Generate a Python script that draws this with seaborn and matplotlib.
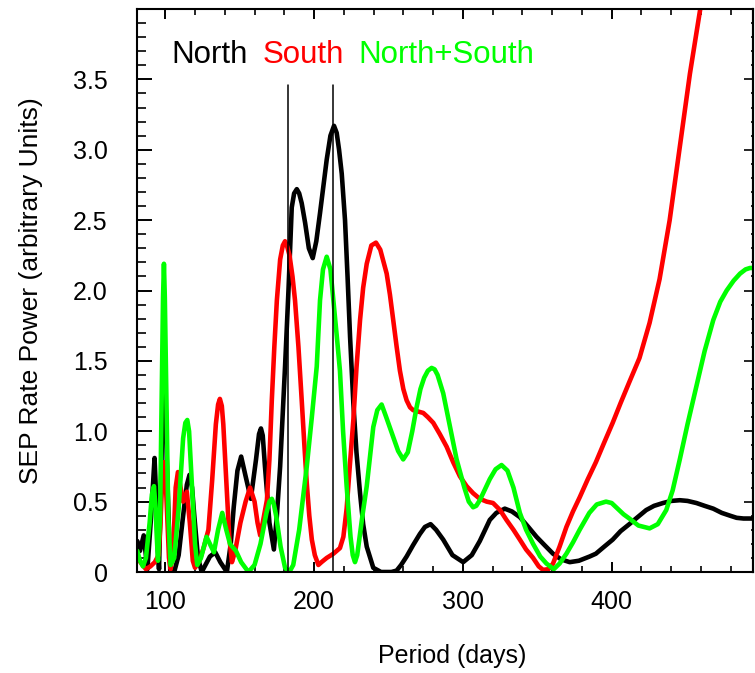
import numpy as np
import pandas as pd
import matplotlib
matplotlib.use("Agg")
import matplotlib.pyplot as plt
from matplotlib.ticker import MultipleLocator, FixedLocator
import seaborn as sns

# Power spectra of SEP event rate versus period (days)
north_period = [81.2, 83, 85.5, 88, 90.5, 92.8, 94, 95, 95.8, 97.5, 98.5, 99.1, 99.7, 101,
                103.4, 106, 109, 112, 114.5, 116.3, 118, 119.5, 122, 124.5, 127, 130, 133.6,
                137, 141.4, 144, 146, 148.5, 151, 154, 157.5, 161, 163, 164.3, 165.5, 167,
                170, 173, 175, 177.2, 180.5, 182.8, 185, 186.6, 188.4, 190, 191.7, 194,
                196.5, 199.1, 201.5, 204, 208.5, 211, 213.4, 215.2, 216.8, 218.6, 220.8,
                222.5, 224.2, 226.4, 228.5, 230.9, 233, 235.4, 239.8, 245, 252, 255.5, 258.5,
                262.2, 266.5, 271.1, 274.5, 278.3, 282, 286.8, 293, 300.2, 306, 311.4, 318.1,
                322.5, 328.2, 333, 338.3, 344, 349.5, 355, 360.6, 366, 371.8, 378, 385.2,
                389.4, 395, 400.7, 406, 411.9, 417.5, 423.2, 428.5, 434.5, 440, 445.8, 451,
                457, 462.5, 468.3, 474, 479.6, 484, 488.6, 496.5]
north_power = [0.22, 0.15, 0.26, 0.02, 0.40, 0.81, 0.50, 0.15, 0.02, 0.80, 1.45, 1.72, 1.45,
               0.80, 0.00, 0.00, 0.12, 0.40, 0.62, 0.69, 0.60, 0.40, 0.10, 0.00, 0.05, 0.11,
               0.14, 0.07, 0.00, 0.20, 0.46, 0.72, 0.82, 0.68, 0.52, 0.80, 0.98, 1.02, 0.97,
               0.75, 0.35, 0.16, 0.40, 0.75, 1.46, 2.00, 2.59, 2.69, 2.72, 2.69, 2.62, 2.48,
               2.30, 2.23, 2.35, 2.55, 2.93, 3.10, 3.17, 3.12, 3.00, 2.83, 2.50, 2.10, 1.67,
               1.20, 0.85, 0.56, 0.34, 0.18, 0.03, 0.00, 0.00, 0.01, 0.05, 0.11, 0.19, 0.27,
               0.32, 0.34, 0.30, 0.23, 0.12, 0.07, 0.12, 0.22, 0.37, 0.42, 0.45, 0.43, 0.39,
               0.32, 0.25, 0.19, 0.13, 0.09, 0.07, 0.08, 0.11, 0.13, 0.18, 0.23, 0.29, 0.34,
               0.39, 0.44, 0.47, 0.49, 0.505, 0.51, 0.505, 0.49, 0.47, 0.45, 0.42, 0.40,
               0.385, 0.38, 0.38]

south_period = [81.2, 84, 87, 90, 93, 95.5, 96.8, 97.8, 99.1, 100.3, 101.5, 102.5, 103.6,
                105.5, 107, 108.5, 110.3, 112, 114.5, 116.5, 118.5, 120, 123, 126, 129,
                131.5, 134, 135.5, 136.7, 138, 139, 141, 143, 144.8, 147, 150.5, 154, 157,
                160, 162, 163.8, 165.5, 168.3, 170, 171.6, 173.3, 175, 177.2, 179, 180.5,
                182, 183.5, 185.5, 187.2, 189.5, 191.7, 193.5, 195.1, 196.8, 198.5, 200.5,
                202.9, 205, 208.5, 213, 217.4, 219.7, 221.9, 224, 226.4, 228.5, 230.9, 233,
                235.4, 238.5, 241.6, 244.5, 248.8, 251, 253.2, 255.5, 257.7, 260, 262.2,
                264.5, 266.6, 270, 273.4, 276.5, 280.1, 284.5, 289.1, 293.5, 298, 302.5,
                306.9, 311.4, 316, 320.3, 325, 329.3, 334, 338.3, 342.5, 347.2, 351, 353.9,
                357.5, 360.6, 365, 369.6, 374, 378.5, 384, 389.4, 395, 400.7, 406, 411.9,
                418.7, 425.5, 432.2, 439, 445.8, 452.6, 459.7, 462]
south_power = [0.10, 0.06, 0.02, 0.04, 0.07, 0.12, 0.35, 0.62, 0.78, 0.65, 0.35, 0.10, 0.02,
               0.20, 0.60, 0.71, 0.60, 0.50, 0.57, 0.35, 0.08, 0.03, 0.08, 0.18, 0.30, 0.65,
               1.05, 1.19, 1.23, 1.18, 1.05, 0.65, 0.25, 0.07, 0.15, 0.35, 0.50, 0.60, 0.50,
               0.35, 0.26, 0.35, 0.51, 0.80, 1.22, 1.60, 1.93, 2.22, 2.32, 2.35, 2.31, 2.25,
               2.10, 1.93, 1.60, 1.22, 0.90, 0.63, 0.40, 0.23, 0.12, 0.05, 0.07, 0.10, 0.13,
               0.17, 0.25, 0.45, 0.75, 1.08, 1.45, 1.79, 2.02, 2.19, 2.32, 2.34, 2.29, 2.12,
               1.97, 1.79, 1.60, 1.43, 1.30, 1.22, 1.17, 1.15, 1.14, 1.13, 1.10, 1.06, 0.98,
               0.89, 0.78, 0.68, 0.61, 0.56, 0.52, 0.50, 0.49, 0.44, 0.37, 0.30, 0.23, 0.16,
               0.10, 0.04, 0.015, 0.02, 0.06, 0.18, 0.32, 0.43, 0.53, 0.66, 0.78, 0.92, 1.06,
               1.20, 1.35, 1.52, 1.77, 2.08, 2.50, 3.02, 3.54, 4.01, 4.30]

both_period = [81.2, 83, 85, 87, 89.5, 91, 92.4, 93.5, 94.3, 95.1, 96.5, 97.8, 98.5, 99.1,
               99.7, 100.5, 102, 103.6, 106, 109, 112, 113.5, 114.8, 116, 117.5, 120, 121.5,
               124, 127.7, 130, 132.7, 135.5, 138.3, 141, 143.5, 145, 147.5, 151, 155.9, 160,
               164, 168, 170, 171.6, 173, 174.5, 177.5, 180.5, 183.4, 186, 190, 195.1, 198.5,
               201.8, 204, 206, 208.5, 211, 213, 215.5, 217.4, 219.5, 221.9, 224.5, 226,
               227.5, 229, 230, 232.5, 235.4, 239.8, 242.5, 245.4, 248.5, 253.2, 256.5, 259.9,
               263, 266, 268.9, 271.5, 274, 276.5, 279, 281, 283, 286.8, 291, 295.8, 301, 304,
               306.9, 309, 311.4, 314.5, 318.1, 322, 326, 330, 334, 338.3, 342.5, 347.2, 352,
               356.2, 361.1, 365, 369.6, 374, 378.5, 385, 390, 396.2, 400, 404, 408, 411.9,
               418, 425.5, 431, 436.7, 441, 445.8, 451, 457, 462.5, 468.3, 473, 477.3, 482,
               486.3, 490, 493, 496.5]
both_power = [0.15, 0.08, 0.04, 0.10, 0.35, 0.55, 0.61, 0.45, 0.25, 0.08, 0.40, 1.40, 1.95,
              2.19, 1.95, 1.40, 0.40, 0.05, 0.10, 0.45, 0.95, 1.06, 1.08, 1.00, 0.70, 0.20,
              0.05, 0.10, 0.25, 0.20, 0.14, 0.30, 0.42, 0.30, 0.20, 0.18, 0.15, 0.07, 0.00,
              0.05, 0.20, 0.42, 0.50, 0.52, 0.48, 0.40, 0.18, 0.03, 0.00, 0.05, 0.30, 0.75,
              1.10, 1.46, 1.93, 2.15, 2.24, 2.15, 1.93, 1.65, 1.43, 1.00, 0.61, 0.25, 0.12,
              0.07, 0.12, 0.20, 0.40, 0.61, 1.03, 1.15, 1.19, 1.10, 0.96, 0.86, 0.80, 0.85,
              1.00, 1.17, 1.30, 1.38, 1.43, 1.45, 1.44, 1.40, 1.27, 1.05, 0.80, 0.60, 0.50,
              0.46, 0.47, 0.51, 0.58, 0.66, 0.73, 0.76, 0.72, 0.60, 0.42, 0.30, 0.20, 0.11,
              0.06, 0.02, 0.06, 0.13, 0.21, 0.30, 0.42, 0.48, 0.50, 0.49, 0.45, 0.41, 0.38,
              0.33, 0.31, 0.34, 0.44, 0.58, 0.80, 1.05, 1.32, 1.57, 1.79, 1.92, 2.00, 2.07,
              2.12, 2.15, 2.16, 2.16]

marker_periods = [182.5, 212.8]
marker_top = 3.46

series_names = ["North", "South", "North+South"]
series_colors = ["black", "#ff0000", "#00ff00"]

sns.set_theme(style="ticks")
plt.rcParams["font.family"] = ["Liberation Sans", "DejaVu Sans"]

fig = plt.figure(figsize=(7.55, 6.73), dpi=100)
ax = fig.add_axes([137 / 755, 1 - 572 / 673, 616 / 755, 563 / 673])

frames = [
    pd.DataFrame({"period": north_period, "power": north_power}),
    pd.DataFrame({"period": south_period, "power": south_power}),
    pd.DataFrame({"period": both_period, "power": both_power}),
]
for df, col in zip(frames, series_colors):
    sns.lineplot(data=df, x="period", y="power", color=col, lw=3.3, ax=ax,
                 sort=False, estimator=None)

for p in marker_periods:
    ax.plot([p, p], [0, marker_top], color="black", lw=1.1, zorder=5)

ax.set_xlim(81, 495)
ax.set_ylim(0, 4.0)

ax.xaxis.set_major_locator(FixedLocator([100, 200, 300, 400]))
ax.xaxis.set_minor_locator(MultipleLocator(20))
ax.yaxis.set_minor_locator(MultipleLocator(0.1))
ax.set_yticks([0, 0.5, 1.0, 1.5, 2.0, 2.5, 3.0, 3.5])
ax.set_yticklabels(["0", "0.5", "1.0", "1.5", "2.0", "2.5", "3.0", "3.5"])

for s in ax.spines.values():
    s.set_linewidth(1.5)
    s.set_color("black")

ax.tick_params(axis="x", which="major", direction="in", length=7.5, width=1.4,
               top=True, bottom=True, labelsize=18, pad=13, colors="black")
ax.tick_params(axis="x", which="minor", direction="in", length=4.3, width=1.4,
               top=True, bottom=True)
ax.tick_params(axis="y", which="major", direction="in", length=10.8, width=1.4,
               left=True, right=False, labelsize=18, pad=21, colors="black")
ax.tick_params(axis="y", which="minor", direction="in", length=6.5, width=1.4,
               left=True, right=False)

right = ax.secondary_yaxis("right")
right.yaxis.set_major_locator(MultipleLocator(0.5))
right.yaxis.set_minor_locator(MultipleLocator(0.1))
right.tick_params(which="major", direction="in", length=6.5, width=1.4, labelright=False)
right.tick_params(which="minor", direction="in", length=1.5, width=1.4)
right.spines["right"].set_linewidth(1.5)

ax.set_xlabel("Period (days)", fontsize=18, color="black")
ax.set_ylabel("SEP Rate Power (arbitrary Units)", fontsize=19, color="black")
ax.xaxis.set_label_coords(0.511, -0.128)
ax.yaxis.set_label_coords(-0.153, 0.5)

legend_x = [0.055, 0.2045, 0.359]
for name, col, lx in zip(series_names, series_colors, legend_x):
    ax.text(lx, 0.904, name, color=col, fontsize=22.5, transform=ax.transAxes,
            ha="left", va="baseline")

fig.savefig("out.png", dpi=100)
